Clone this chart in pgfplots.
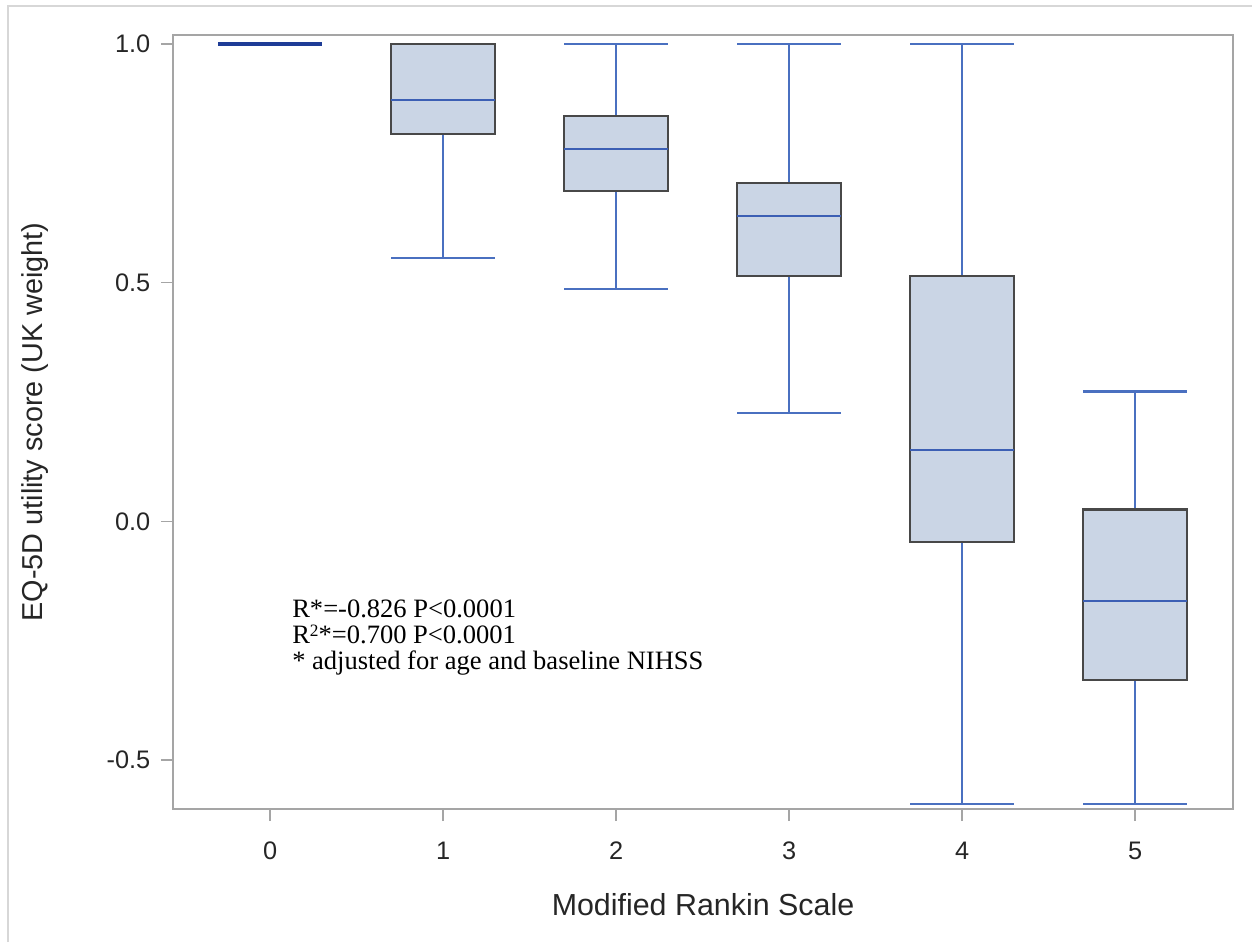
\documentclass[border=0pt]{standalone}
\usepackage{fontspec}
\setmainfont{Liberation Sans}
\newfontfamily\timesfont{Liberation Serif}
\usepackage{pgfplots}
\pgfplotsset{compat=1.18}
\usepgfplotslibrary{statistics}
\definecolor{boxfill}{RGB}{202,213,229}
\definecolor{boxedge}{RGB}{72,72,72}
\definecolor{whisk}{RGB}{74,112,192}
\definecolor{medc}{RGB}{60,95,180}
\definecolor{navy0}{RGB}{30,60,150}
\definecolor{axgray}{RGB}{165,165,165}
\definecolor{framegray}{RGB}{215,215,215}
\begin{document}
\begin{tikzpicture}
\path[use as bounding box] (-129.75pt,-99.75pt) rectangle (809.25pt,606.75pt);
\draw[framegray, line width=1.5pt] (-123.75pt,-99.75pt) -- (-123.75pt,602.25pt) -- (809.25pt,602.25pt);
\begin{axis}[
  at={(0,0)}, anchor=south west,
  scale only axis, width=795pt, height=580.5pt,
  xmin=-0.561, xmax=5.566, ymin=-0.6025, ymax=1.019,
  axis line style={axgray, line width=1pt},
  tick style={axgray, line width=1pt},
  tick align=outside, major tick length=9pt,
  tick pos=left,
  xtick={0,1,2,3,4,5},
  xticklabels={0,1,2,3,4,5},
  ytick={-0.5,0,0.5,1},
  yticklabels={-0.5,0.0,0.5,1.0},
  /pgf/number format/assume math mode=true,
  ticklabel style={font=\fontsize{19}{22}\selectfont, text=black!85},
  xticklabel style={yshift=-12pt},
  yticklabel style={xshift=-4.5pt},
  xlabel={Modified Rankin Scale},
  ylabel={EQ-5D utility score (UK weight)},
  xlabel style={at={(axis description cs:0.5,-0.124)}, anchor=center, font=\fontsize{22.8}{26}\selectfont, text=black!85},
  ylabel style={at={(axis description cs:-0.1302,0.5)}, anchor=center, font=\fontsize{21.6}{26}\selectfont, text=black!85},
  boxplot/draw direction=y,
  boxplot/every box/.style={draw=boxedge, fill=boxfill, line width=1.6pt},
  boxplot/every whisker/.style={draw=whisk, line width=1.6pt},
  boxplot/every median/.style={draw=medc, line width=1.6pt},
]
\addplot[navy0, line width=2.4pt, forget plot] coordinates {(-0.3,1.0) (0.3,1.0)};
\addplot[boxplot prepared={lower whisker=0.551, lower quartile=0.811, median=0.883, upper quartile=1.0, upper whisker=1.0, draw position=1, box extend=0.6, whisker extend=0.6}] coordinates {};
\addplot[boxplot prepared={lower whisker=0.486, lower quartile=0.692, median=0.780, upper quartile=0.849, upper whisker=1.0, draw position=2, box extend=0.6, whisker extend=0.6}] coordinates {};
\addplot[boxplot prepared={lower whisker=0.227, lower quartile=0.515, median=0.639, upper quartile=0.709, upper whisker=1.0, draw position=3, box extend=0.6, whisker extend=0.6}] coordinates {};
\addplot[boxplot prepared={lower whisker=-0.592, lower quartile=-0.044, median=0.150, upper quartile=0.515, upper whisker=1.0, draw position=4, box extend=0.6, whisker extend=0.6}] coordinates {};
\addplot[boxplot prepared={lower whisker=-0.592, lower quartile=-0.333, median=-0.166, upper quartile=0.025, upper whisker=0.272, draw position=5, box extend=0.6, whisker extend=0.6}] coordinates {};
\node[anchor=north west, align=left, inner sep=0pt, font=\timesfont\fontsize{19.9}{19.5}\selectfont] at (axis cs:0.127,-0.163) {R*=-0.826 P<0.0001\\R\raisebox{4.6pt}{\fontsize{13}{13}\selectfont 2}*=0.700 P<0.0001\\* adjusted for age and baseline NIHSS};
\end{axis}
\end{tikzpicture}
\end{document}
